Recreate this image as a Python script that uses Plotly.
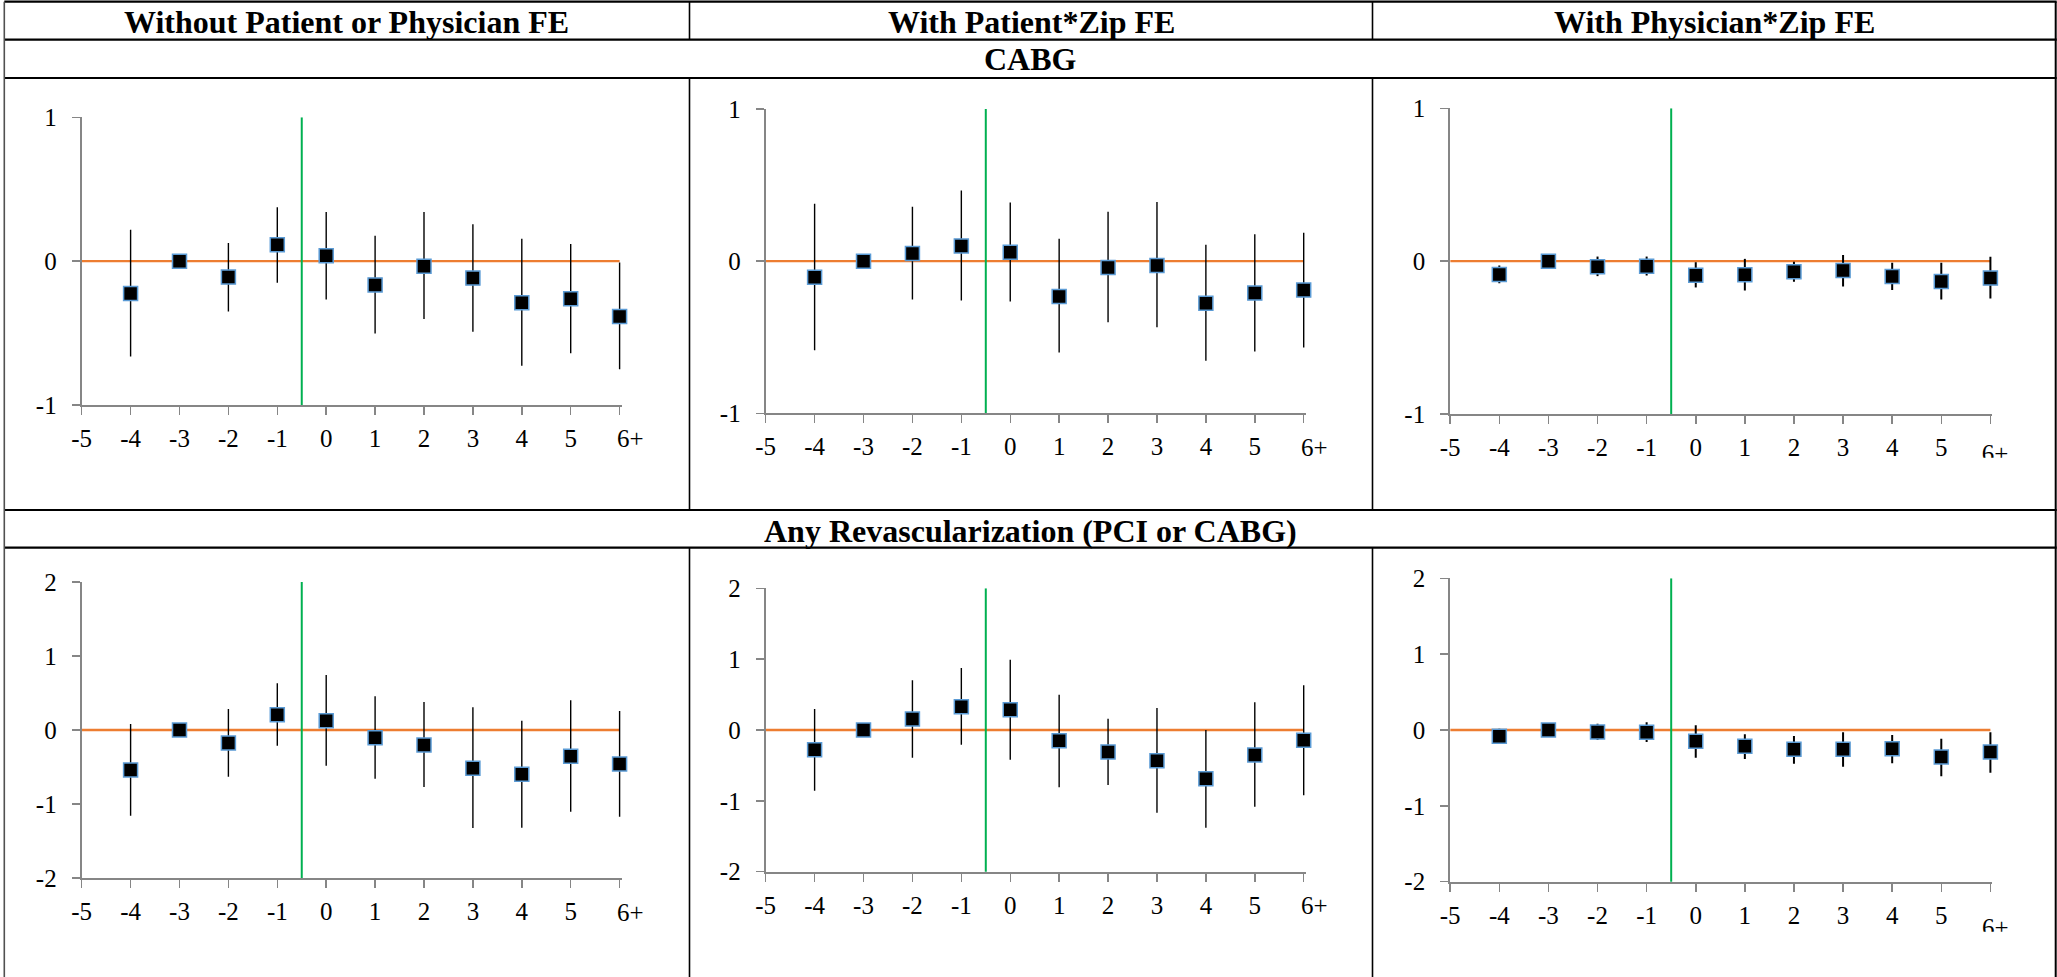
import plotly.graph_objects as go

# ---------------------------------------------------------------- data
event_time = [-4, -3, -2, -1, 0, 1, 2, 3, 4, 5, 6]
x_tick_vals = [-5, -4, -3, -2, -1, 0, 1, 2, 3, 4, 5, 6]
x_tick_text = ["-5", "-4", "-3", "-2", "-1", "0", "1", "2", "3", "4", "5", ""]
last_bin_label = "6+"

column_titles = ["Without Patient or Physician FE", "With Patient*Zip FE", "With Physician*Zip FE"]
row_titles = ["CABG", "Any Revascularization (PCI or CABG)"]

# CABG
cabg_none_coef = [-0.225, 0.0, -0.111, 0.114, 0.037, -0.165, -0.035, -0.118, -0.290, -0.262, -0.385]
cabg_none_lo = [-0.663, None, -0.350, -0.151, -0.267, -0.503, -0.403, -0.491, -0.728, -0.640, -0.751]
cabg_none_hi = [0.218, None, 0.127, 0.375, 0.341, 0.176, 0.341, 0.257, 0.155, 0.120, -0.010]

cabg_pat_coef = [-0.105, 0.0, 0.050, 0.100, 0.059, -0.232, -0.042, -0.028, -0.276, -0.210, -0.190]
cabg_pat_lo = [-0.585, None, -0.252, -0.258, -0.265, -0.600, -0.401, -0.434, -0.655, -0.594, -0.567]
cabg_pat_hi = [0.377, None, 0.357, 0.464, 0.386, 0.147, 0.324, 0.388, 0.107, 0.177, 0.186]

cabg_phys_coef = [-0.087, 0.0, -0.037, -0.033, -0.092, -0.089, -0.070, -0.061, -0.100, -0.133, -0.111]
cabg_phys_lo = [-0.144, None, -0.098, -0.094, -0.172, -0.192, -0.135, -0.166, -0.188, -0.251, -0.244]
cabg_phys_hi = [-0.028, None, 0.030, 0.030, -0.007, 0.015, -0.004, 0.041, -0.011, -0.011, 0.028]

# Any revascularization
rev_none_coef = [-0.540, 0.0, -0.176, 0.207, 0.126, -0.104, -0.203, -0.518, -0.599, -0.356, -0.459]
rev_none_lo = [-1.158, None, -0.631, -0.212, -0.482, -0.658, -0.770, -1.324, -1.320, -1.104, -1.171]
rev_none_hi = [0.081, None, 0.284, 0.631, 0.743, 0.455, 0.378, 0.306, 0.126, 0.401, 0.257]

rev_pat_coef = [-0.278, 0.0, 0.155, 0.329, 0.287, -0.151, -0.311, -0.433, -0.687, -0.353, -0.146]
rev_pat_lo = [-0.856, None, -0.391, -0.207, -0.419, -0.809, -0.776, -1.167, -1.379, -1.082, -0.922]
rev_pat_hi = [0.296, None, 0.701, 0.875, 0.993, 0.499, 0.160, 0.311, 0.000, 0.391, 0.631]

rev_phys_coef = [-0.084, 0.0, -0.026, -0.031, -0.149, -0.215, -0.255, -0.255, -0.246, -0.356, -0.290]
rev_phys_lo = [-0.180, None, -0.132, -0.158, -0.365, -0.382, -0.444, -0.484, -0.440, -0.611, -0.563]
rev_phys_hi = [0.018, None, 0.084, 0.101, 0.062, -0.057, -0.079, -0.031, -0.066, -0.114, -0.031]

cabg_y_ticks = [-1, 0, 1]
rev_y_ticks = [-2, -1, 0, 1, 2]

# ---------------------------------------------------------------- layout geometry (pixels)
W, H = 2057, 977
FONT = "Liberation Serif"
TICK_SIZE = 25
AXIS_GREY = "#868686"
ORANGE = "#ED7D31"
GREEN = "#00B050"
MARKER_EDGE = "#5B9BD5"
X_PAD = 0.04  # small room right of the last bin so its whisker is not clipped


def fx(px):
    return px / W


def fy(py):
    return 1 - py / H


# each panel: series, y ticks, plot box (x of -5, x of 6, top, bottom) in px,
# whether the last label is cut off by the cell, whisker width
panels = [
    (cabg_none_coef, cabg_none_lo, cabg_none_hi, cabg_y_ticks, (81.7, 619.6, 117.3, 405.0), False, 1.4),
    (cabg_pat_coef, cabg_pat_lo, cabg_pat_hi, cabg_y_ticks, (765.7, 1303.7, 109.0, 413.3), False, 1.4),
    (cabg_phys_coef, cabg_phys_lo, cabg_phys_hi, cabg_y_ticks, (1450.2, 1990.4, 108.3, 414.0), True, 2.0),
    (rev_none_coef, rev_none_lo, rev_none_hi, rev_y_ticks, (81.7, 619.6, 582.0, 878.0), False, 1.4),
    (rev_pat_coef, rev_pat_lo, rev_pat_hi, rev_y_ticks, (765.7, 1303.7, 588.3, 871.7), False, 1.4),
    (rev_phys_coef, rev_phys_lo, rev_phys_hi, rev_y_ticks, (1450.2, 1990.4, 578.3, 881.7), True, 2.0),
]

fig = go.Figure()
layout = dict(
    width=W, height=H, autosize=False,
    margin=dict(l=0, r=0, t=0, b=0, pad=0, autoexpand=False),
    paper_bgcolor="white", plot_bgcolor="white",
    showlegend=False, hovermode=False,
    font=dict(family=FONT, color="black"),
)
annotations = []
shapes = []

for i, (coef, lo, hi, yticks, box, cut_last, ebw) in enumerate(panels):
    n = i + 1
    xa = "x" if n == 1 else f"x{n}"
    ya = "y" if n == 1 else f"y{n}"
    left, right, top, bottom = box
    step = (right - left) / 11
    ymin, ymax = min(yticks), max(yticks)
    y_per_px = (ymax - ymin) / (bottom - top)

    layout["xaxis" if n == 1 else f"xaxis{n}"] = dict(
        domain=[fx(left), fx(right + X_PAD * step)], range=[-5, 6 + X_PAD], anchor=ya,
        automargin=False, showgrid=False, zeroline=False,
        showline=True, linecolor=AXIS_GREY, linewidth=2,
        ticks="outside", ticklen=8, tickwidth=1.5, tickcolor=AXIS_GREY,
        tickmode="array", tickvals=x_tick_vals, ticktext=x_tick_text,
        tickfont=dict(family=FONT, size=TICK_SIZE, color="black"),
        ticklabelstandoff=2, fixedrange=True,
    )
    layout["yaxis" if n == 1 else f"yaxis{n}"] = dict(
        domain=[fy(bottom), fy(top)], range=[ymin, ymax], anchor=xa,
        automargin=False, showgrid=False, zeroline=False,
        showline=True, linecolor=AXIS_GREY, linewidth=2,
        ticks="outside", ticklen=8, tickwidth=1.5, tickcolor=AXIS_GREY,
        tickmode="array", tickvals=yticks, ticktext=[str(v) for v in yticks],
        tickfont=dict(family=FONT, size=TICK_SIZE, color="black"),
        ticklabelstandoff=10, fixedrange=True,
    )

    # zero reference line and treatment-onset line (the latter runs a touch past the axis)
    fig.add_trace(go.Scatter(x=[-5, 6], y=[0, 0], mode="lines", xaxis=xa, yaxis=ya,
                             line=dict(color=ORANGE, width=2.4), cliponaxis=False))
    fig.add_trace(go.Scatter(x=[-0.5, -0.5], y=[ymax, ymin - 3 * y_per_px], mode="lines",
                             xaxis=xa, yaxis=ya, line=dict(color=GREEN, width=2), cliponaxis=False))

    plus = [0 if h is None else h - c for c, h in zip(coef, hi)]
    minus = [0 if l is None else c - l for c, l in zip(coef, lo)]
    fig.add_trace(go.Scatter(
        x=event_time, y=coef, mode="markers", xaxis=xa, yaxis=ya, cliponaxis=False,
        marker=dict(symbol="square", size=14, color="black", line=dict(color=MARKER_EDGE, width=1.5)),
        error_y=dict(type="data", symmetric=False, array=plus, arrayminus=minus,
                     color="black", thickness=ebw, width=0),
    ))

    if not cut_last:
        annotations.append(dict(
            x=6, y=ymin, xref=xa, yref=ya, text=last_bin_label, showarrow=False,
            xanchor="left", yanchor="middle", xshift=-5, yshift=-34,
            font=dict(family=FONT, size=TICK_SIZE, color="black"),
        ))

# the last-bin label in the right-hand column is cut off by the cell edge:
# draw it as text inside a small clipping subplot
clip_boxes = [(1970.0, 2040.0, 430.0, 457.7, 456.0, 1981.7),
              (1970.0, 2040.0, 895.0, 931.7, 929.7, 1982.0)]
for j, (l, r, t, b, ty, tx) in enumerate(clip_boxes):
    n = 7 + j
    layout[f"xaxis{n}"] = dict(domain=[fx(l), fx(r)], range=[l, r], visible=False,
                               automargin=False, anchor=f"y{n}", fixedrange=True)
    layout[f"yaxis{n}"] = dict(domain=[fy(b), fy(t)], range=[b, t], visible=False,
                               automargin=False, anchor=f"x{n}", fixedrange=True)
    fig.add_trace(go.Scatter(
        x=[tx], y=[ty], mode="text", text=[last_bin_label], textposition="middle right",
        textfont=dict(family=FONT, size=TICK_SIZE, color="black"),
        xaxis=f"x{n}", yaxis=f"y{n}", cliponaxis=True,
    ))

# ---------------------------------------------------------------- table frame
L_EDGE, R_EDGE = 4.3, 2055.7
C1, C2 = 689.5, 1372.5
T0, T1, T2, T3, T4 = 1.7, 39.7, 78.0, 510.0, 547.7


def hline(y, w=2.2):
    shapes.append(dict(type="line", xref="paper", yref="paper", x0=fx(L_EDGE), x1=fx(R_EDGE + 1),
                       y0=fy(y), y1=fy(y), line=dict(color="black", width=w)))


def vline(x, y0, y1, color="black", w=1.6):
    shapes.append(dict(type="line", xref="paper", yref="paper", x0=fx(x), x1=fx(x),
                       y0=fy(y0), y1=fy(y1), line=dict(color=color, width=w)))


for y in (T0, T1, T2, T3, T4):
    hline(y)
vline(L_EDGE, T0, H, color="#505050", w=1.6)
vline(R_EDGE, T0, H, w=2)
for x in (C1, C2):
    vline(x, T0, T1)
    vline(x, T2, T3)
    vline(x, T4, H)

# column and row headings
col_centers = [(L_EDGE + C1) / 2, (C1 + C2) / 2, (C2 + R_EDGE) / 2]
for cx, title in zip(col_centers, column_titles):
    annotations.append(dict(x=fx(cx), y=fy(21.5), xref="paper", yref="paper", text=f"<b>{title}</b>",
                            showarrow=False, xanchor="center", yanchor="middle",
                            font=dict(family=FONT, size=32, color="black")))
for cy, title in zip([59.0, 530.5], row_titles):
    annotations.append(dict(x=fx((L_EDGE + R_EDGE) / 2), y=fy(cy), xref="paper", yref="paper",
                            text=f"<b>{title}</b>", showarrow=False, xanchor="center", yanchor="middle",
                            font=dict(family=FONT, size=32, color="black")))

layout["annotations"] = annotations
layout["shapes"] = shapes
fig.update_layout(**layout)

fig.write_html("out.html", config={"displayModeBar": False, "staticPlot": True})
